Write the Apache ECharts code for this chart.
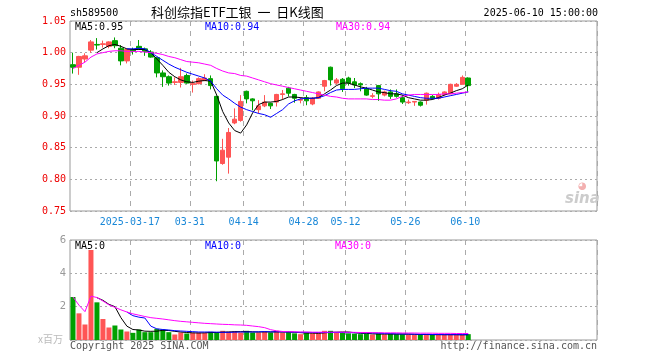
<!DOCTYPE html>
<html><head><meta charset="utf-8">
<script src="https://cdn.jsdelivr.net/npm/echarts@6/dist/echarts.min.js"></script>
<style>html,body{margin:0;padding:0;background:#fff}#c{width:660px;height:360px}</style>
</head><body><div id="c"></div>
<script>
const dates = ['2025-03-03','2025-03-04','2025-03-05','2025-03-06','2025-03-07','2025-03-10','2025-03-11','2025-03-12','2025-03-13','2025-03-14',
'2025-03-17','2025-03-18','2025-03-19','2025-03-20','2025-03-21','2025-03-24','2025-03-25','2025-03-26','2025-03-27','2025-03-28',
'2025-03-31','2025-04-01','2025-04-02','2025-04-03','2025-04-07','2025-04-08','2025-04-09','2025-04-10','2025-04-11','2025-04-14',
'2025-04-15','2025-04-16','2025-04-17','2025-04-18','2025-04-21','2025-04-22','2025-04-23','2025-04-24','2025-04-25','2025-04-28',
'2025-04-29','2025-04-30','2025-05-06','2025-05-07','2025-05-08','2025-05-09','2025-05-12','2025-05-13','2025-05-14','2025-05-15',
'2025-05-16','2025-05-19','2025-05-20','2025-05-21','2025-05-22','2025-05-23','2025-05-26','2025-05-27','2025-05-28','2025-05-29',
'2025-05-30','2025-06-03','2025-06-04','2025-06-05','2025-06-06','2025-06-09','2025-06-10'];
const openP  = [0.981,0.977,0.990,1.004,1.013,1.013,1.010,1.019,1.007,0.987,1.005,1.010,1.006,1.001,0.992,0.968,0.962,0.953,0.953,0.964,
0.950,0.951,0.956,0.959,0.931,0.825,0.835,0.889,0.893,0.939,0.927,0.910,0.916,0.920,0.922,0.934,0.944,0.934,0.925,0.929,
0.919,0.928,0.947,0.977,0.952,0.958,0.960,0.954,0.951,0.943,0.931,0.948,0.933,0.938,0.935,0.929,0.921,0.922,0.922,0.925,
0.931,0.928,0.934,0.935,0.947,0.950,0.960];
const closeP = [0.977,0.994,0.995,1.017,1.012,1.014,1.017,1.011,0.987,1.005,1.002,1.007,1.002,0.993,0.968,0.962,0.952,0.954,0.962,0.952,
0.951,0.959,0.960,0.948,0.829,0.846,0.874,0.895,0.923,0.927,0.924,0.916,0.922,0.916,0.934,0.935,0.936,0.928,0.926,0.924,
0.928,0.938,0.956,0.957,0.957,0.943,0.952,0.949,0.949,0.933,0.932,0.935,0.938,0.931,0.931,0.922,0.922,0.923,0.917,0.936,
0.928,0.934,0.938,0.950,0.950,0.961,0.948];
const highP  = [1.000,0.995,0.999,1.020,1.023,1.019,1.018,1.024,1.012,1.006,1.008,1.020,1.008,1.004,0.993,0.972,0.964,0.961,0.976,0.967,
0.956,0.961,0.966,0.964,0.932,0.864,0.881,0.912,0.933,0.940,0.928,0.925,0.933,0.921,0.935,0.941,0.946,0.935,0.930,0.933,
0.930,0.939,0.957,0.978,0.960,0.960,0.962,0.960,0.953,0.946,0.936,0.949,0.940,0.942,0.942,0.933,0.926,0.923,0.923,0.937,
0.933,0.937,0.939,0.951,0.952,0.964,0.961];
const lowP   = [0.967,0.965,0.985,1.000,1.005,1.008,1.007,1.007,0.980,0.983,0.997,1.005,0.995,0.992,0.961,0.946,0.948,0.949,0.945,0.951,
0.937,0.950,0.955,0.942,0.797,0.823,0.809,0.887,0.891,0.920,0.909,0.904,0.914,0.911,0.915,0.926,0.931,0.921,0.920,0.917,
0.917,0.927,0.939,0.948,0.950,0.938,0.948,0.944,0.939,0.932,0.928,0.924,0.931,0.927,0.929,0.919,0.919,0.916,0.915,0.918,
0.926,0.926,0.932,0.935,0.946,0.950,0.938];
const ma5 = ['-','-','-','-',1.000,1.006,1.011,1.013,1.010,1.006,1.005,1.005,1.005,1.000,0.990,0.980,0.969,0.962,0.957,0.954,
0.953,0.955,0.956,0.955,0.933,0.907,0.889,0.877,0.873,0.886,0.905,0.918,0.922,0.922,0.923,0.926,0.930,0.930,0.929,0.928,
0.928,0.929,0.935,0.941,0.948,0.952,0.952,0.949,0.946,0.944,0.941,0.938,0.937,0.935,0.935,0.933,0.929,0.927,0.925,0.925,
0.926,0.929,0.933,0.936,0.940,0.943,0.949];
const ma10 = ['-','-','-','-','-','-','-','-','-',1.006,1.006,1.007,1.006,1.000,0.994,0.988,0.982,0.977,0.973,0.969,
0.966,0.963,0.960,0.955,0.943,0.933,0.927,0.920,0.914,0.910,0.907,0.904,0.902,0.898,0.904,0.910,0.919,0.924,0.927,0.928,
0.928,0.929,0.932,0.937,0.941,0.942,0.942,0.942,0.943,0.944,0.944,0.944,0.942,0.940,0.939,0.935,0.933,0.931,0.929,0.928,
0.928,0.928,0.930,0.932,0.934,0.936,0.938];
const ma30 = [0.975,0.980,0.985,0.993,0.998,1.000,1.002,1.003,1.003,1.002,1.002,1.002,1.001,1.000,0.999,0.997,0.994,0.992,0.989,0.986,
0.985,0.984,0.982,0.980,0.975,0.971,0.968,0.967,0.964,0.963,0.960,0.957,0.954,0.951,0.949,0.947,0.945,0.943,0.941,0.939,
0.937,0.935,0.933,0.931,0.930,0.928,0.927,0.927,0.927,0.927,0.926,0.926,0.925,0.925,0.927,0.931,0.933,0.934,0.934,0.934,
0.934,0.934,0.935,0.935,0.936,0.937,0.938];
const volume = [2.58,1.60,0.93,5.40,2.26,1.26,0.75,0.87,0.63,0.51,0.43,0.63,0.47,0.47,0.67,0.63,0.47,0.33,0.45,0.39,
0.43,0.45,0.43,0.49,0.45,0.55,0.50,0.52,0.45,0.55,0.45,0.45,0.50,0.45,0.55,0.45,0.47,0.40,0.35,0.45,
0.40,0.40,0.55,0.55,0.43,0.45,0.40,0.38,0.35,0.38,0.33,0.38,0.33,0.38,0.35,0.35,0.33,0.30,0.33,0.33,
0.30,0.33,0.30,0.33,0.30,0.30,0.35];
const vma5 = ['-','-','-','-',2.54,2.38,2.14,2.00,1.34,0.83,0.63,0.60,0.53,0.52,0.53,0.58,0.57,0.52,0.48,0.45,
0.43,0.42,0.43,0.45,0.45,0.47,0.48,0.50,0.50,0.51,0.49,0.48,0.49,0.48,0.49,0.48,0.48,0.46,0.44,0.42,
0.41,0.40,0.43,0.46,0.47,0.48,0.48,0.44,0.40,0.40,0.37,0.36,0.35,0.36,0.35,0.36,0.35,0.34,0.33,0.33,
0.32,0.32,0.32,0.32,0.32,0.31,0.32];
const vma10 = ['-','-','-','-','-','-','-','-','-',1.68,1.46,1.37,1.32,0.83,0.67,0.63,0.60,0.56,0.54,0.52,
0.50,0.48,0.48,0.48,0.47,0.46,0.46,0.47,0.48,0.48,0.48,0.49,0.50,0.49,0.49,0.49,0.48,0.47,0.46,0.46,
0.45,0.45,0.45,0.45,0.45,0.45,0.44,0.44,0.43,0.43,0.42,0.41,0.39,0.38,0.37,0.36,0.36,0.35,0.34,0.34,
0.33,0.33,0.32,0.32,0.32,0.32,0.32];
const vma30 = [2.58,2.09,1.70,2.63,2.55,2.34,2.11,1.96,1.81,1.68,1.57,1.49,1.41,1.34,1.30,1.26,1.21,1.16,1.12,1.09,
1.06,1.03,1.00,0.98,0.96,0.94,0.93,0.91,0.90,0.88,0.84,0.80,0.74,0.62,0.55,0.51,0.50,0.49,0.48,0.48,
0.47,0.47,0.47,0.47,0.47,0.47,0.46,0.46,0.45,0.45,0.44,0.44,0.43,0.43,0.43,0.42,0.42,0.42,0.41,0.41,
0.41,0.40,0.40,0.40,0.39,0.39,0.39];
const priceTicks = [0.75, 0.80, 0.85, 0.90, 0.95, 1.00, 1.05];
const volTicks = [0, 2, 4, 6];
const labelDates = ['2025-03-17','2025-03-31','2025-04-14','2025-04-28','2025-05-12','2025-05-26','2025-06-10'];
const totalSlots = 88;

const UP = '#ff5555', DOWN = '#00a000';
const cats = dates.slice();
for (let i = dates.length; i < totalSlots; i++) cats.push('pad' + i);
const labelSet = new Set(labelDates);
const showIdx = (i, v) => labelSet.has(v);
const candles = dates.map((d, i) => [openP[i], closeP[i], lowP[i], highP[i]]);
const vols = volume.map((v, i) => ({ value: v, itemStyle: { color: closeP[i] >= openP[i] ? UP : DOWN } }));
const mono = 'DejaVu Sans Mono';

const chart = echarts.init(document.getElementById('c'), null, { renderer: 'canvas' });
const xBase = {
  type: 'category', data: cats, boundaryGap: true,
  axisLine: { show: false }, axisTick: { show: false },
  splitLine: { show: true, interval: showIdx, lineStyle: { color: '#aaa', type: [5, 5], width: 1 } }
};
chart.setOption({
  animation: false,
  backgroundColor: '#fff',
  grid: [
    { left: 70, right: 63, top: 21, height: 190, show: true, borderColor: '#999', borderWidth: 1, backgroundColor: 'transparent' },
    { left: 70, right: 63, top: 240, height: 100, show: true, borderColor: '#999', borderWidth: 1, backgroundColor: 'transparent' }
  ],
  xAxis: [
    Object.assign({}, xBase, { gridIndex: 0,
      axisLabel: { show: true, interval: showIdx, color: '#1a88d8', fontFamily: mono, fontSize: 10, margin: 6,
        padding: [0, 6, 0, 0],
        formatter: v => v === labelDates[0] ? v : v.slice(5) } }),
    Object.assign({}, xBase, { gridIndex: 1, axisLabel: { show: false } })
  ],
  yAxis: [
    { type: 'value', gridIndex: 0, min: priceTicks[0], max: priceTicks[priceTicks.length - 1], interval: 0.05,
      axisLine: { show: false }, axisTick: { show: false },
      axisLabel: { color: '#ee0000', fontFamily: mono, fontSize: 10, margin: 4, formatter: v => v.toFixed(2) },
      splitLine: { show: true, lineStyle: { color: '#aaa', type: [2, 3] } } },
    { type: 'value', gridIndex: 1, min: volTicks[0], max: volTicks[volTicks.length - 1], interval: 2,
      axisLine: { show: false }, axisTick: { show: false },
      axisLabel: { color: '#999', fontFamily: 'DejaVu Sans', fontSize: 10, margin: 4, formatter: v => v === 0 ? '' : String(v) },
      splitLine: { show: true, lineStyle: { color: '#aaa', type: [2, 3] } } }
  ],
  series: [
    { type: 'candlestick', xAxisIndex: 0, yAxisIndex: 0, data: candles, barWidth: 5,
      itemStyle: { color: UP, color0: DOWN, borderColor: UP, borderColor0: DOWN, borderWidth: 1 } },
    { type: 'line', xAxisIndex: 0, yAxisIndex: 0, data: ma5, symbol: 'none', lineStyle: { color: '#000', width: 1 } },
    { type: 'line', xAxisIndex: 0, yAxisIndex: 0, data: ma10, symbol: 'none', lineStyle: { color: '#0000ff', width: 1 } },
    { type: 'line', xAxisIndex: 0, yAxisIndex: 0, data: ma30, symbol: 'none', lineStyle: { color: '#ff00ff', width: 1 } },
    { type: 'bar', xAxisIndex: 1, yAxisIndex: 1, data: vols, barWidth: 5 },
    { type: 'line', xAxisIndex: 1, yAxisIndex: 1, data: vma5, symbol: 'none', lineStyle: { color: '#000', width: 1 } },
    { type: 'line', xAxisIndex: 1, yAxisIndex: 1, data: vma10, symbol: 'none', lineStyle: { color: '#0000ff', width: 1 } },
    { type: 'line', xAxisIndex: 1, yAxisIndex: 1, data: vma30, symbol: 'none', lineStyle: { color: '#ff00ff', width: 1 } }
  ],
  graphic: [
    { type: 'text', left: 70, top: 8, style: { text: 'sh589500', fill: '#000', font: '10px "DejaVu Sans Mono"' } },
    { type: 'text', left: 151, top: 6, style: { text: '科创综指ETF工银  一  日K线图', fill: '#000', font: '13px "Noto Sans CJK SC"' } },
    { type: 'text', right: 62, top: 8, style: { text: '2025-06-10 15:00:00', fill: '#000', font: '10px "DejaVu Sans Mono"' } },
    { type: 'text', left: 75, top: 22, style: { text: 'MA5:0.95', fill: '#000', font: '10px "DejaVu Sans Mono"' } },
    { type: 'text', left: 205, top: 22, style: { text: 'MA10:0.94', fill: '#0000ff', font: '10px "DejaVu Sans Mono"' } },
    { type: 'text', left: 336, top: 22, style: { text: 'MA30:0.94', fill: '#ff00ff', font: '10px "DejaVu Sans Mono"' } },
    { type: 'text', left: 75, top: 241, style: { text: 'MA5:0', fill: '#000', font: '10px "DejaVu Sans Mono"' } },
    { type: 'text', left: 205, top: 241, style: { text: 'MA10:0', fill: '#0000ff', font: '10px "DejaVu Sans Mono"' } },
    { type: 'text', left: 335, top: 241, style: { text: 'MA30:0', fill: '#ff00ff', font: '10px "DejaVu Sans Mono"' } },
    { type: 'text', left: 38, top: 334, style: { text: 'x百万', fill: '#bbb', font: '10px "Noto Sans CJK SC"' } },
    { type: 'text', left: 70, top: 341, style: { text: 'Copyright 2025 SINA.COM', fill: '#555', font: '10px "DejaVu Sans Mono"' } },
    { type: 'text', right: 63, top: 341, style: { text: 'http://finance.sina.com.cn', fill: '#555', font: '10px "DejaVu Sans Mono"' } },
    { type: 'text', left: 565, top: 192, style: { text: 'sina', fill: '#ccc', font: 'italic bold 15px "DejaVu Sans"' } },
    { type: 'text', left: 578, top: 181, style: { text: '◕', fill: '#f3b0b0', font: '10px "DejaVu Sans"' } }
  ]
});
</script></body></html>
